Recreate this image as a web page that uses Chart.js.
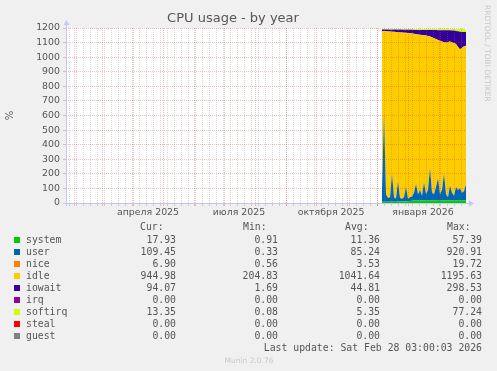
<!DOCTYPE html>
<html>
<head>
<meta charset="utf-8">
<title>CPU usage - by year</title>
<script src="https://cdn.jsdelivr.net/npm/chart.js@4.4.1/dist/chart.umd.min.js"></script>
<style>
  body { margin: 0; background: #f0f0f0; }
  canvas { display: block; }
</style>
</head>
<body>
<canvas id="mycanvas" width="497" height="371"></canvas>
<script>
// time axis: 400 days ending at the last update
var axisStart = '2025-01-24';
var axisEnd = '2026-02-28';
// samples: one every 2 days, first one on this date
var firstDay = '2025-12-06';
var stepDays = 2;

var system  = [8,9,9,8,9,10,9,9,10,10,10,11,12,12,14,16,17,17,17,18,18,19,18,17,18,19,18,18,20,18,17,19,18,18,19,17,18,19,18,18,19,18,18];
var user    = [82,601,51,27,31,190,31,21,140,25,20,29,98,18,26,29,53,113,43,72,32,121,42,73,222,51,42,92,150,42,73,181,42,22,101,53,32,91,72,82,51,62,109];
var nice    = [2,3,2,2,2,3,2,2,3,2,2,3,3,2,3,3,3,4,3,4,3,4,3,4,5,4,3,4,5,3,4,5,3,3,4,4,3,5,5,6,5,6,7];
var idle    = [1088,565,1115,1139,1134,972,1132,1141,1019,1133,1137,1125,1054,1134,1121,1114,1087,1024,1093,1060,1099,1006,1085,1051,896,1062,1067,1010,943,1050,1014,898,1037,1061,983,1026,1044,975,975,948,990,989,945];
var iowait  = [9,11,12,13,12,13,15,16,16,19,19,20,21,22,24,26,27,29,31,33,35,37,39,41,45,50,56,62,67,72,77,82,85,80,77,83,86,89,107,121,108,98,94];
var irq     = [0,0,0,0,0,0,0,0,0,0,0,0,0,0,0,0,0,0,0,0,0,0,0,0,0,0,0,0,0,0,0,0,0,0,0,0,0,0,0,0,0,0,0];
var softirq = [4,4,4,4,5,5,4,4,5,4,5,5,5,5,5,5,6,6,6,6,6,6,6,7,7,7,7,7,8,8,8,8,8,9,9,10,10,14,16,18,20,20,13];
var steal   = [0,0,0,0,0,0,0,0,0,0,0,0,0,0,0,0,0,0,0,0,0,0,0,0,0,0,0,0,0,0,0,0,0,0,0,0,0,0,0,0,0,0,0];
var guest   = [0,0,0,0,0,0,0,0,0,0,0,0,0,0,0,0,0,0,0,0,0,0,0,0,0,0,0,0,0,0,0,0,0,0,0,0,0,0,0,0,0,0,0];

var names  = ['system','user','nice','idle','iowait','irq','softirq','steal','guest'];
var colors = ['#00cc00','#0066b3','#ff8000','#ffcc00','#330099','#990099','#ccff00','#ff0000','#808080'];
var curVals = ['17.93','109.45','6.90','944.98','94.07','0.00','13.35','0.00','0.00'];
var minVals = ['0.91','0.33','0.56','204.83','1.69','0.00','0.08','0.00','0.00'];
var avgVals = ['11.36','85.24','3.53','1041.64','44.81','0.00','5.35','0.00','0.00'];
var maxVals = ['57.39','920.91','19.72','1195.63','298.53','0.00','77.24','0.00','0.00'];

var yTicks = [0,100,200,300,400,500,600,700,800,900,1000,1100,1200];
var labelDates = ['2025-04-16','2025-07-16','2025-10-16','2026-01-16'];
var labelTexts = ['апреля 2025','июля 2025','октября 2025','января 2026'];
var monthDates = ['2025-02-01','2025-03-01','2025-04-01','2025-05-01','2025-06-01','2025-07-01','2025-08-01',
                  '2025-09-01','2025-10-01','2025-11-01','2025-12-01','2026-01-01','2026-02-01'];
var firstMonday = '2025-01-27';

function dayOf(s) {
  return (Date.parse(s) - Date.parse(axisStart)) / 864e5;
}

var series = [system, user, nice, idle, iowait, irq, softirq, steal, guest];
var datasets = [];
for (var k = 0; k < series.length; k++) {
  var pts = [];
  for (var i = 0; i < series[k].length; i++) {
    pts.push({ x: dayOf(firstDay) + i * stepDays, y: series[k][i] });
  }
  datasets.push({
    label: names[k],
    data: pts,
    backgroundColor: colors[k],
    borderWidth: 0,
    pointRadius: 0,
    fill: k === 0 ? 'origin' : '-1'
  });
}

var RED = 'rgba(220,40,40,0.3)';
var GRAY = 'rgba(120,120,120,0.3)';

var decor = {
  id: 'decor',
  beforeDraw: function(chart) {
    var a = chart.chartArea, ctx = chart.ctx;
    ctx.save();
    ctx.fillStyle = '#ffffff';
    ctx.fillRect(a.left, a.top, a.right - a.left, a.bottom - a.top);
    ctx.restore();
  },
  afterDraw: function(chart) {
    var a = chart.chartArea, ctx = chart.ctx;
    ctx.save();
    // axes with arrow heads
    ctx.strokeStyle = '#c6c6f2';
    ctx.fillStyle = '#c6c6f2';
    ctx.lineWidth = 1;
    ctx.beginPath();
    ctx.moveTo(a.left - 3, a.bottom + 0.5);
    ctx.lineTo(a.right + 4, a.bottom + 0.5);
    ctx.moveTo(a.left + 0.5, a.bottom + 3);
    ctx.lineTo(a.left + 0.5, a.top - 4);
    ctx.stroke();
    ctx.beginPath();
    ctx.moveTo(a.right + 8, a.bottom + 0.5);
    ctx.lineTo(a.right + 3, a.bottom - 2.5);
    ctx.lineTo(a.right + 3, a.bottom + 3.5);
    ctx.fill();
    ctx.beginPath();
    ctx.moveTo(a.left + 0.5, a.top - 8);
    ctx.lineTo(a.left - 2.5, a.top - 3);
    ctx.lineTo(a.left + 3.5, a.top - 3);
    ctx.fill();

    // vertical credit
    ctx.save();
    ctx.translate(487, 5);
    ctx.rotate(Math.PI / 2);
    ctx.font = '7.5px "DejaVu Sans"';
    ctx.fillStyle = '#c8c8c8';
    ctx.textBaseline = 'middle';
    ctx.textAlign = 'left';
    ctx.fillText('RRDTOOL / TOBI OETIKER', 0, 0);
    ctx.restore();

    // legend table
    ctx.font = '9.8px "DejaVu Sans Mono"';
    ctx.fillStyle = '#555555';
    ctx.textBaseline = 'middle';
    ctx.textAlign = 'left';
    ctx.fillText('Cur:', 140, 227);
    ctx.fillText('Min:', 243, 227);
    ctx.fillText('Avg:', 345, 227);
    ctx.fillText('Max:', 447, 227);
    for (var r = 0; r < names.length; r++) {
      var y = 240 + r * 12;
      ctx.fillStyle = colors[r];
      ctx.fillRect(14, y - 3, 6, 6);
      ctx.fillStyle = '#555555';
      ctx.textAlign = 'left';
      ctx.fillText(names[r], 26, y);
      ctx.textAlign = 'right';
      ctx.fillText(curVals[r], 176, y);
      ctx.fillText(minVals[r], 278, y);
      ctx.fillText(avgVals[r], 380, y);
      ctx.fillText(maxVals[r], 482, y);
    }
    ctx.textAlign = 'right';
    ctx.fillText('Last update: Sat Feb 28 03:00:03 2026', 482, 348);
    ctx.textAlign = 'center';
    ctx.font = '7.5px "DejaVu Sans"';
    ctx.fillStyle = '#c8c8c8';
    ctx.fillText('Munin 2.0.76', 249, 361);
    ctx.restore();
  }
};

Chart.defaults.font.family = '"DejaVu Sans", sans-serif';
Chart.defaults.color = '#555555';

var ctx = document.getElementById('mycanvas');
var chart = new Chart(ctx, {
  type: 'line',
  data: { datasets: datasets },
  plugins: [decor],
  options: {
    responsive: false,
    animation: false,
    layout: { padding: { left: 0, right: 31, top: 0, bottom: 146 } },
    plugins: {
      legend: { display: false },
      tooltip: { enabled: false },
      title: {
        display: true,
        text: 'CPU usage - by year',
        color: '#555555',
        font: { size: 13, weight: 'normal' },
        padding: { top: 11, bottom: 1.4 }
      }
    },
    scales: {
      x: {
        type: 'linear',
        min: 0,
        max: dayOf(axisEnd),
        afterBuildTicks: function(scale) {
          var t = [];
          for (var d = dayOf(firstMonday); d <= dayOf(axisEnd); d += 7) t.push({ value: d, kind: 'week', text: '' });
          monthDates.forEach(function(m) { t.push({ value: dayOf(m), kind: 'month', text: '' }); });
          labelDates.forEach(function(m, j) { t.push({ value: dayOf(m), kind: 'label', text: labelTexts[j] }); });
          t.sort(function(p, q) { return p.value - q.value; });
          scale.ticks = t;
        },
        afterFit: function(scale) { scale.height = 22; },
        grid: {
          z: 1,
          tickLength: 3,
          color: function(c) {
            if (!c.tick) return GRAY;
            if (c.tick.kind === 'month') return RED;
            if (c.tick.kind === 'week') return GRAY;
            return 'rgba(0,0,0,0)';
          }
        },
        border: { display: false, dash: [1, 1] },
        ticks: {
          autoSkip: false,
          maxRotation: 0,
          minRotation: 0,
          padding: 1,
          font: { size: 9.4 },
          callback: function(v, i, ticks) { return ticks[i].text; }
        }
      },
      y: {
        stacked: true,
        min: 0,
        max: 1200,
        afterBuildTicks: function(scale) {
          scale.ticks = yTicks.map(function(v) { return { value: v }; });
        },
        afterFit: function(scale) { scale.width = 66; },
        grid: { z: 1, tickLength: 3, color: RED },
        border: { display: false, dash: [1, 1] },
        ticks: {
          padding: 3,
          font: { size: 9.4 },
          callback: function(v) { return String(v); }
        },
        title: {
          display: true,
          text: '%',
          font: { size: 10 },
          padding: { top: 4, bottom: 0 }
        }
      }
    }
  }
});
</script>
</body>
</html>
